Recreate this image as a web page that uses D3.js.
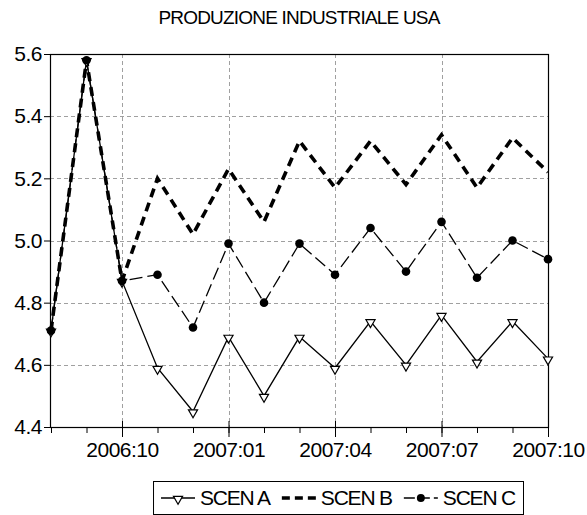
<!DOCTYPE html>
<html>
<head>
<meta charset="utf-8">
<script src="https://d3js.org/d3.v7.min.js"></script>
<style>
	body { margin: 0; background: #fff; }
	svg text { font-family: "Liberation Sans", Arial, sans-serif; fill: #000; }
	.grid { stroke: #a0a0a0; stroke-width: 1; stroke-dasharray: 4,3; fill: none; }
	.axis path { display: none; }
	.axis line { stroke: #000; }
</style>
</head>
<body>
<svg id="chart" width="587" height="515"></svg>
<script>

// monthly data, 2006:08 .. 2007:10
var months = ["2006:08","2006:09","2006:10","2006:11","2006:12",
	"2007:01","2007:02","2007:03","2007:04","2007:05","2007:06",
	"2007:07","2007:08","2007:09","2007:10"];
var scenA = [4.71, 5.58, 4.87, 4.59, 4.45, 4.69, 4.50, 4.69, 4.59, 4.74, 4.60, 4.76, 4.61, 4.74, 4.62];
var scenB = [4.71, 5.58, 4.87, 5.20, 5.02, 5.23, 5.06, 5.32, 5.17, 5.32, 5.18, 5.34, 5.17, 5.33, 5.22];
var scenC = [4.71, 5.58, 4.87, 4.89, 4.72, 4.99, 4.80, 4.99, 4.89, 5.04, 4.90, 5.06, 4.88, 5.00, 4.94];
var yTicks = [4.4, 4.6, 4.8, 5.0, 5.2, 5.4, 5.6];
var xLabels = ["2006:10","2007:01","2007:04","2007:07","2007:10"];
var seriesNames = ["SCEN A", "SCEN B", "SCEN C"];

// plot area (window.top is reserved, so no "top" here)
var pL = 50, pR = 548, pT = 54, pB = 427;

var svg = d3.select("#chart");

var x = d3.scalePoint().domain(months).range([pL + 1, pR]);
var y = d3.scaleLinear().domain([4.4, 5.6]).range([pB, pT]);

// title
svg.append("text")
	.attr("x", (pL + pR) / 2)
	.attr("y", 24)
	.attr("text-anchor", "middle")
	.style("font-size", "19px")
	.style("letter-spacing", "-0.8px")
	.text("PRODUZIONE INDUSTRIALE USA");

// grid
svg.append("g").selectAll("line")
	.data(yTicks.slice(1, -1))
	.enter().append("line")
	.attr("class", "grid")
	.attr("x1", pL).attr("x2", pR)
	.attr("y1", function(d){ return Math.round(y(d)) + 0.5; })
	.attr("y2", function(d){ return Math.round(y(d)) + 0.5; });

svg.append("g").selectAll("line")
	.data(xLabels.slice(0, -1))
	.enter().append("line")
	.attr("class", "grid")
	.attr("y1", pT).attr("y2", pB)
	.attr("x1", function(d){ return Math.round(x(d)) + 0.5; })
	.attr("x2", function(d){ return Math.round(x(d)) + 0.5; });

// y axis
svg.append("g")
	.attr("class", "axis")
	.attr("transform", "translate(" + pL + ",0)")
	.call(d3.axisLeft(y).tickValues(yTicks).tickFormat(d3.format(".1f")).tickSize(6).tickPadding(2))
	.selectAll("text")
	.style("font-size", "21px")
	.style("letter-spacing", "-0.5px")
	.style("font-family", "'Liberation Sans', Arial, sans-serif");

// x axis: minor ticks every month
svg.append("g")
	.attr("class", "axis")
	.attr("transform", "translate(0," + pB + ")")
	.call(d3.axisBottom(x).tickSize(6).tickFormat(""));

// major ticks with labels, crossing the axis
var xMajor = svg.append("g")
	.attr("class", "axis")
	.attr("transform", "translate(0," + pB + ")")
	.call(d3.axisBottom(x).tickValues(xLabels).tickSize(10).tickPadding(5));
xMajor.selectAll(".tick line").attr("y1", -6);
xMajor.selectAll("text")
	.style("font-size", "21px")
	.style("letter-spacing", "-0.5px")
	.style("font-family", "'Liberation Sans', Arial, sans-serif");

// frame
svg.append("rect")
	.attr("x", pL + 0.5).attr("y", pT + 0.5)
	.attr("width", pR - pL).attr("height", pB - pT)
	.attr("fill", "none").attr("stroke", "#000").attr("stroke-width", 1.2);

var line = d3.line()
	.x(function(d, i){ return x(months[i]); })
	.y(function(d){ return y(d); });

// SCEN A: solid, open triangles
svg.append("path").datum(scenA)
	.attr("d", line).attr("fill", "none")
	.attr("stroke", "#000").attr("stroke-width", 1.3);

// SCEN C: dashed, filled dots
svg.append("path").datum(scenC)
	.attr("d", line).attr("fill", "none")
	.attr("stroke", "#000").attr("stroke-width", 1.3)
	.attr("stroke-dasharray", "13,5");

// SCEN B: thick dashes
svg.append("path").datum(scenB)
	.attr("d", line).attr("fill", "none")
	.attr("stroke", "#000").attr("stroke-width", 3.6)
	.attr("stroke-dasharray", "9,6");

var tri = d3.symbol().type(d3.symbolTriangle).size(36);

svg.append("g").selectAll("path")
	.data(scenA)
	.enter().append("path")
	.attr("d", tri)
	.attr("transform", function(d, i){ return "translate(" + x(months[i]) + "," + (y(d) + 1) + ") rotate(180)"; })
	.attr("fill", "#fff").attr("stroke", "#000").attr("stroke-width", 1.2);

svg.append("g").selectAll("circle")
	.data(scenC)
	.enter().append("circle")
	.attr("cx", function(d, i){ return x(months[i]); })
	.attr("cy", function(d){ return y(d); })
	.attr("r", 4.3)
	.attr("fill", "#000");

// legend
var lg = svg.append("g");
var symW = 34, gapT = 5, gapI = 12, pad = 8;
var items = lg.selectAll("g.item").data(seriesNames).enter().append("g").attr("class", "item");
items.append("text")
	.attr("y", 0)
	.attr("x", symW + gapT)
	.style("font-size", "21px")
	.style("letter-spacing", "-1.2px")
	.text(function(d){ return d; });

var offs = [], cur = pad;
items.each(function(d, i){
	offs.push(cur);
	cur += symW + gapT + this.querySelector("text").getComputedTextLength() + gapI;
});
var totalW = cur - gapI + pad;
var boxRight = 523, boxTop = 481, boxH = 33;
var boxLeft = boxRight - totalW;

lg.append("rect")
	.attr("x", boxLeft + 0.5).attr("y", boxTop + 0.5)
	.attr("width", totalW).attr("height", boxH)
	.attr("fill", "none").attr("stroke", "#000").attr("stroke-width", 1)
	.lower();

var ly = boxTop + 24;
items.attr("transform", function(d, i){ return "translate(" + (boxLeft + offs[i]) + "," + ly + ")"; });

items.append("line")
	.attr("x1", 0).attr("x2", symW)
	.attr("y1", -7).attr("y2", -7)
	.attr("stroke", "#000")
	.attr("stroke-width", function(d, i){ return i === 1 ? 3.6 : 1.3; })
	.attr("stroke-dasharray", function(d, i){ return i === 0 ? null : (i === 1 ? "8,5" : "11,4"); });

items.filter(function(d, i){ return i === 0; }).append("path")
	.attr("d", tri)
	.attr("transform", "translate(" + symW / 2 + ",-6) rotate(180)")
	.attr("fill", "#fff").attr("stroke", "#000").attr("stroke-width", 1.2);

items.filter(function(d, i){ return i === 2; }).append("circle")
	.attr("cx", symW / 2).attr("cy", -7).attr("r", 4).attr("fill", "#000");

</script>
</body>
</html>
